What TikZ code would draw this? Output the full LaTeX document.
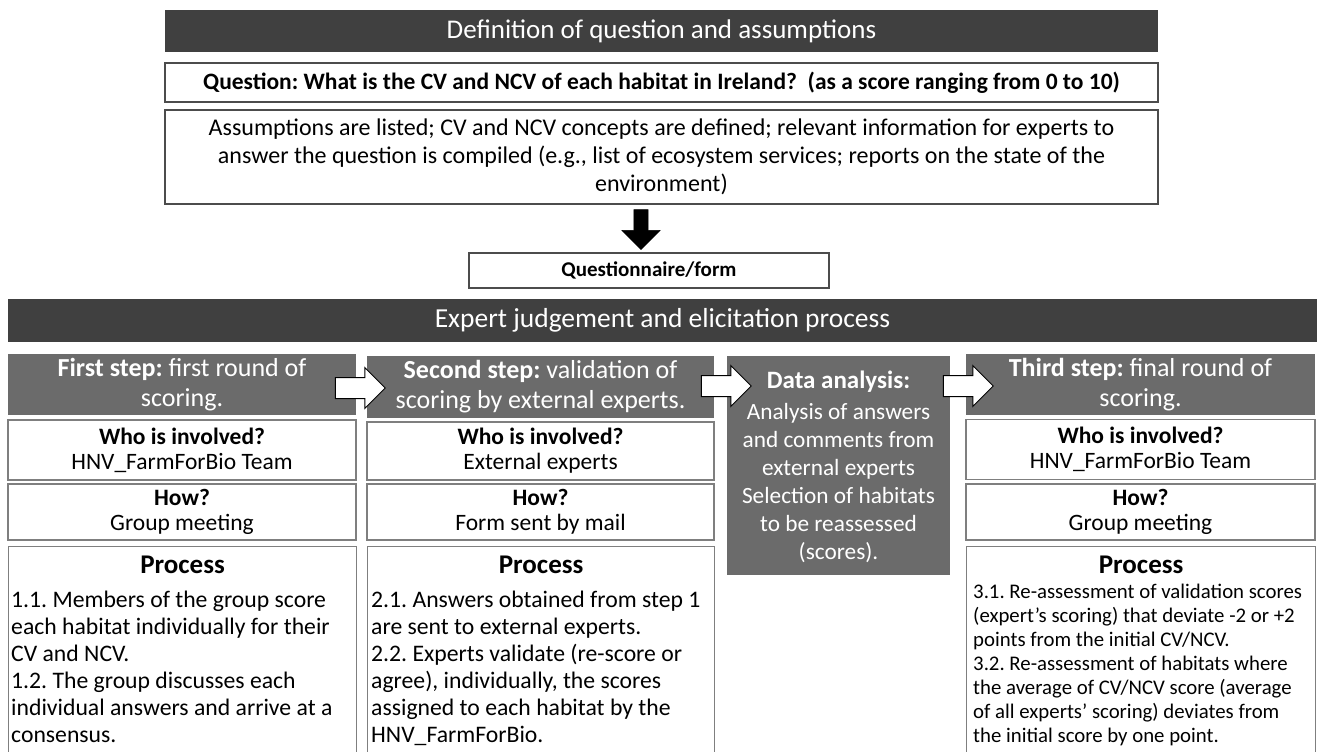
\documentclass[tikz,border=0pt]{standalone}
\usepackage{fontspec}
\setmainfont{Carlito}
\usetikzlibrary{shapes.arrows}
\definecolor{darkbar}{HTML}{404040}
\definecolor{midbar}{HTML}{6B6B6B}
\definecolor{edge}{HTML}{7F7F7F}
\newcommand{\fs}[2]{\fontsize{#1}{#2}\selectfont}
\frenchspacing
\begin{document}
\begin{tikzpicture}[x=1pt,y=-1pt,
  darkbox/.style={fill=darkbar, draw=none, text=white, inner sep=0pt, align=center},
  wbox/.style={draw=edge, line width=1.2pt, fill=white, inner sep=0pt, align=center},
  topbox/.style={draw=black!70, line width=1.2pt, fill=white, inner sep=0pt, align=center},
  stephead/.style={fill=midbar, draw=none, text=white, inner sep=0pt, align=center},
  blockarrow/.style={single arrow, draw=black, line width=1pt, fill=white, minimum height=50pt, inner xsep=0pt, inner ysep=10pt, single arrow head extend=10pt},
  proctext/.style={anchor=north west, inner sep=0pt, align=left}
]
\useasboundingbox (0,0) rectangle (1317,752);
\fill[white] (0,0) rectangle (1317,752);

% ---------- top section ----------
\node[darkbox, minimum width=993pt, minimum height=42pt, font=\fs{27}{30}] (def) at (661.5,31) {Definition of question and assumptions};
\node[topbox, minimum width=993pt, minimum height=39pt, font=\fs{23.5}{26}\bfseries] (q) at (661.5,82.5) {Question: What is the CV and NCV of each habitat in Ireland?\ \ (as a score ranging from 0 to 10)};
\node[topbox, minimum width=993pt, minimum height=94pt, font=\fs{24}{28}] (ass) at (661.5,157) {Assumptions are listed; CV and NCV concepts are defined; relevant information for experts to\\ answer the question is compiled (e.g., list of ecosystem services; reports on the state of the\\ environment)};
\node[single arrow, shape border rotate=270, fill=black, draw=black, minimum height=40pt, inner xsep=7pt, inner ysep=0pt, single arrow head extend=12pt] (down) at (641,226) {};
\node[topbox, minimum width=360pt, minimum height=35pt, font=\fs{21}{24}\bfseries] (qf) at (649,270.5) {Questionnaire/form};

% ---------- expert judgement bar ----------
\node[darkbox, minimum width=1309pt, minimum height=43pt, font=\fs{27.5}{30}] (exp) at (662.5,320.5) {Expert judgement and elicitation process};

% ---------- column headers ----------
\node[stephead, minimum width=348pt, minimum height=61pt, font=\fs{26}{30}] (h1) at (182,384.5) {\textbf{First step:} first round of\\ scoring.};
\node[stephead, minimum width=347pt, minimum height=62pt, font=\fs{26}{30}] (h2) at (540.5,387) {\textbf{Second step:} validation of\\ scoring by external experts.};
\node[stephead, minimum width=223pt, minimum height=219pt] (da) at (838.5,465.5) {};
\node[anchor=north, inner sep=0pt, align=center, text=white, font=\fs{23.3}{28}] (dat) at (838.5,371) {{\fs{25}{28}\bfseries Data analysis:}\\[3pt] Analysis of answers\\ and comments from\\ external experts\\ Selection of habitats\\ to be reassessed\\ (scores).};
\node[stephead, minimum width=349pt, minimum height=61pt, font=\fs{26}{30}] (h3) at (1140.5,384.5) {\textbf{Third step:} final round of\\ scoring.};

% ---------- who boxes ----------
\node[wbox, minimum width=348pt, minimum height=60pt, font=\fs{23.5}{25}] (w1) at (182,450) {\textbf{Who is involved?}\\ HNV\_FarmForBio Team};
\node[wbox, minimum width=347pt, minimum height=58pt, font=\fs{23.5}{25}] (w2) at (540.5,451) {\textbf{Who is involved?}\\ External experts};
\node[wbox, minimum width=349pt, minimum height=60pt, font=\fs{23.5}{25}] (w3) at (1140.5,449.5) {\textbf{Who is involved?}\\ HNV\_FarmForBio Team};

% ---------- how boxes ----------
\node[wbox, minimum width=348pt, minimum height=56pt, font=\fs{23.5}{25}] (o1) at (182,512) {\textbf{How?}\\ Group meeting};
\node[wbox, minimum width=347pt, minimum height=56pt, font=\fs{23.5}{25}] (o2) at (540.5,512) {\textbf{How?}\\ Form sent by mail};
\node[wbox, minimum width=349pt, minimum height=56pt, font=\fs{23.5}{25}] (o3) at (1140.5,512) {\textbf{How?}\\ Group meeting};

% ---------- process boxes ----------
\node[wbox, anchor=north west, minimum width=348pt, minimum height=220pt] (p1) at (8,546) {};
\node[wbox, anchor=north west, minimum width=347pt, minimum height=220pt] (p2) at (367,546) {};
\node[wbox, anchor=north west, minimum width=349pt, minimum height=220pt] (p3) at (966,546) {};

\node[anchor=north, inner sep=0pt, font=\fs{27}{30}\bfseries] (p1h) at ([yshift=-10pt]p1.north) {Process};
\node[anchor=north, inner sep=0pt, font=\fs{27}{30}\bfseries] (p2h) at ([yshift=-10pt]p2.north) {Process};
\node[anchor=north, inner sep=0pt, font=\fs{27}{30}\bfseries] (p3h) at ([yshift=-10pt]p3.north) {Process};

\node[proctext, font=\fs{23.7}{27}] (p1t) at (11,591) {1.1. Members of the group score\\ each habitat individually for their\\ CV and NCV.\\ 1.2. The group discusses each\\ individual answers and arrive at a\\ consensus.};
\node[proctext, font=\fs{23.7}{27}] (p2t) at (371,591) {2.1. Answers obtained from step 1\\ are sent to external experts.\\ 2.2. Experts validate (re-score or\\ agree), individually, the scores\\ assigned to each habitat by the\\ HNV\_FarmForBio.};
\node[proctext, font=\fs{20.8}{24}] (p3t) at (973,584) {3.1. Re-assessment of validation scores\\ (expert’s scoring) that deviate -2 or +2\\ points from the initial CV/NCV.\\ 3.2. Re-assessment of habitats where\\ the average of CV/NCV score (average\\ of all experts’ scoring) deviates from\\ the initial score by one point.};

% ---------- block arrows ----------
\node[blockarrow] (a1) at (355,388) {};
\node[blockarrow] (a2) at (721,386) {};
\node[blockarrow] (a3) at (963,386) {};
\end{tikzpicture}
\end{document}
